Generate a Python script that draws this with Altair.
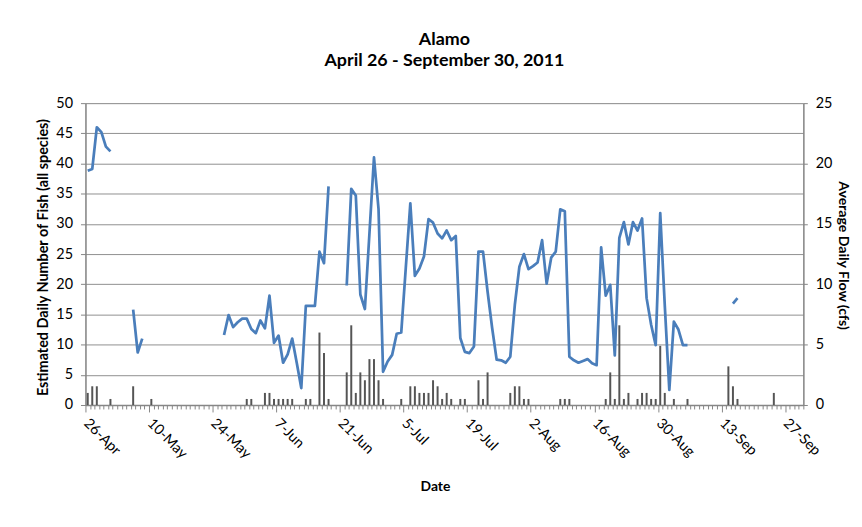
import json
import altair as alt
import pandas as pd

FONT = "Lato"

# ---- data ----
n_days = 158  # April 26 .. September 30, 2011 (one slot per day)
tick_labels = ["26-Apr", "10-May", "24-May", "7-Jun", "21-Jun", "5-Jul",
               "19-Jul", "2-Aug", "16-Aug", "30-Aug", "13-Sep", "27-Sep"]

# Average daily flow (cfs), right axis: runs of consecutive days
flow_start_days = [0, 10, 30, 57, 142]
flow_segments = [
    [19.4, 19.55, 23.0, 22.6, 21.4, 21.0],
    [7.9, 4.35, 5.5],
    [5.8, 7.45, 6.45, 6.85, 7.15, 7.15, 6.3, 5.95, 7.0, 6.35, 9.05, 5.15,
     5.75, 3.5, 4.2, 5.5, 3.5, 1.4, 8.2, 8.2, 8.2, 12.7, 11.75, 18.1],
    [9.9, 17.9, 17.35, 9.15, 7.95, 14.2, 20.5, 16.25, 2.75, 3.6, 4.15, 5.9,
     6.0, 11.35, 16.7, 10.7, 11.3, 12.3, 15.4, 15.1, 14.2, 13.8, 14.45, 13.65,
     14.0, 5.55, 4.4, 4.3, 4.85, 12.7, 12.7, 9.4, 6.4, 3.75, 3.7, 3.5,
     4.0, 8.3, 11.45, 12.5, 11.25, 11.5, 11.8, 13.65, 10.05, 12.2, 12.7, 16.2,
     16.05, 4.0, 3.7, 3.5, 3.65, 3.8, 3.45, 3.3, 13.05, 9.05, 9.95, 4.1,
     13.85, 15.15, 13.3, 15.15, 14.45, 15.45, 8.85, 6.65, 4.95, 15.9, 8.25, 1.25,
     6.9, 6.25, 4.95, 4.95],
    [8.4, 8.85],
]

# Estimated daily number of fish (all species), left axis
fish_days = [0, 1, 2, 5, 10, 14,
             35, 36, 39, 40, 41, 42, 43, 44, 45,
             48, 49, 51, 52, 53,
             57, 58, 59, 60, 61, 62, 63, 64, 65,
             69, 71, 72, 73, 74, 75, 76, 77, 78, 79, 80,
             82, 83, 86, 87, 88,
             93, 94, 95, 96, 97,
             104, 105, 106,
             114, 115, 116, 117, 118, 119,
             121, 122, 123, 124, 125, 126, 127,
             129, 132,
             141, 142, 143, 151]
fish_counts = [2, 3.1, 3.1, 1, 3.1, 1,
               1, 1, 2, 2, 1, 1, 1, 1, 1,
               1, 1, 12, 8.6, 1,
               5.4, 13.2, 2, 5.4, 4.1, 7.6, 7.6, 4.1, 1,
               1, 3.1, 3.1, 2, 2, 2, 4.1, 3.1, 1, 2, 1,
               1, 1, 4.1, 1, 5.4,
               2, 3.1, 3.1, 1, 1,
               1, 1, 1,
               1, 5.4, 1, 13.2, 1, 2,
               1, 2, 2, 1, 1, 9.8, 2,
               1, 1,
               6.4, 3.1, 1, 2]

rows = []
for seg, (start, vals) in enumerate(zip(flow_start_days, flow_segments)):
    for k, v in enumerate(vals):
        rows.append({"day": start + k, "flow": v, "seg": seg})
flow_df = pd.DataFrame(rows)
fish_df = pd.DataFrame({"day": fish_days, "fish": fish_counts})

GRID = "#8f8f8f"
AXIS = "#868686"
TXT = "#000000"

label_js = json.dumps(tick_labels)
x_scale = alt.Scale(domain=[0, n_days], nice=False, zero=False)
x_axis = alt.Axis(
    values=list(range(0, n_days + 1)),
    labelExpr=f"datum.value % 14 === 0 ? {label_js}[datum.value / 14] : ''",
    labelAngle=45, labelAlign="left", labelBaseline="middle",
    labelPadding=9, labelOverlap=False, labelFlush=False,
    labelFont=FONT, labelFontSize=14.5, labelColor=TXT,
    tickSize=alt.condition("datum.value % 14 === 0", alt.value(7), alt.value(4)),
    tickColor=AXIS, tickWidth=1, domainColor=AXIS, domainWidth=1.5,
    grid=False,
    title="Date", titleFont=FONT, titleFontSize=14, titleFontWeight="bold",
    titleColor=TXT, titleX=352, titleY=82, titleBaseline="middle",
    titleAnchor="start", titleAlign="center",
)

left_axis = alt.Axis(
    orient="left", values=list(range(0, 51, 5)), grid=True,
    gridColor=GRID, gridWidth=1,
    tickSize=5, tickColor=AXIS, domainColor=AXIS, domainWidth=1.5,
    labelFont=FONT, labelFontSize=14.5, labelColor=TXT, labelPadding=8,
    title="Estimated Daily Number of Fish (all species)",
    titleFont=FONT, titleFontSize=14.5, titleFontWeight="bold", titleColor=TXT,
    titleX=-42, titleY=155, titleAngle=-90, titleBaseline="middle",
    titleAlign="center", titleAnchor="start",
)

right_axis = alt.Axis(
    orient="right", values=list(range(0, 26, 5)), grid=False,
    tickSize=4, tickColor=AXIS, domainColor=AXIS, domainWidth=1.5,
    labelFont=FONT, labelFontSize=14.5, labelColor=TXT, labelPadding=8,
    title="Average Daily Flow  (cfs)",
    titleFont=FONT, titleFontSize=14.2, titleFontWeight="bold", titleColor=TXT,
    titleX=39, titleY=153, titleAngle=90, titleBaseline="middle",
    titleAlign="center", titleAnchor="start",
)

bars = alt.Chart(fish_df).transform_calculate(
    xc="datum.day + 0.5"
).mark_rule(color="#555555", strokeWidth=2).encode(
    x=alt.X("xc:Q", scale=x_scale, axis=x_axis),
    y=alt.Y("fish:Q", scale=alt.Scale(domain=[0, 50], nice=False), axis=left_axis),
    y2=alt.datum(0),
)

line = alt.Chart(flow_df).transform_calculate(
    xc="datum.day + 0.5"
).mark_line(color="#4a7ebb", strokeWidth=2.75, strokeJoin="round").encode(
    x=alt.X("xc:Q", scale=x_scale, axis=x_axis),
    y=alt.Y("flow:Q", scale=alt.Scale(domain=[0, 25], nice=False), axis=right_axis),
    detail="seg:N",
)

chart = alt.layer(bars, line).resolve_scale(y="independent").properties(
    width=723, height=304,
    padding={"left": 78, "top": 94, "right": 51, "bottom": 113},
    autosize=alt.AutoSizeParams(type="none"),
    title=alt.TitleParams(
        text="Alamo", subtitle="April 26 - September 30, 2011",
        font=FONT, fontSize=18, fontWeight="bold", color=TXT,
        subtitleFont=FONT, subtitleFontSize=18, subtitleFontWeight="bold",
        subtitleColor=TXT, subtitlePadding=4,
        anchor="middle", frame="group", offset=25,
    ),
).configure_view(stroke=None).configure(background="white")

chart.save("out.html", embed_options={"renderer": "svg", "actions": False})
